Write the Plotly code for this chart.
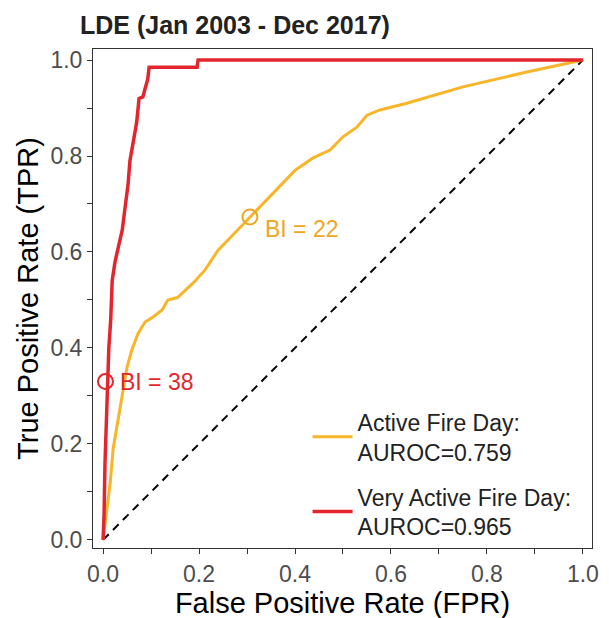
import plotly.graph_objects as go

# ---- data ----
active_fpr = [0.0, 0.008, 0.015, 0.021, 0.031, 0.042, 0.05, 0.06, 0.073, 0.0875, 0.105,
              0.123, 0.135, 0.155, 0.171, 0.19, 0.2125, 0.24, 0.27, 0.306, 0.354, 0.4,
              0.4375, 0.473, 0.5, 0.529, 0.55, 0.577, 0.633, 0.702, 0.75, 0.883, 0.967, 1.0]
active_tpr = [0.0, 0.06, 0.12, 0.19, 0.25, 0.32, 0.36, 0.396, 0.43, 0.454, 0.465,
              0.479, 0.5, 0.505, 0.52, 0.5375, 0.5625, 0.604, 0.635, 0.673, 0.723, 0.77,
              0.796, 0.8125, 0.84, 0.86, 0.885, 0.896, 0.91, 0.931, 0.944, 0.975, 0.994, 1.0]

vactive_fpr = [0.0, 0.002, 0.004, 0.008, 0.012, 0.016, 0.019, 0.025, 0.031, 0.04, 0.046,
               0.052, 0.056, 0.063, 0.07, 0.075, 0.083, 0.0875, 0.093, 0.096, 0.196, 0.198, 1.0]
vactive_tpr = [0.0, 0.05, 0.16, 0.30, 0.40, 0.46, 0.54, 0.58, 0.604, 0.646, 0.694,
               0.74, 0.79, 0.83, 0.87, 0.92, 0.923, 0.94, 0.96, 0.985, 0.985, 1.0, 1.0]

chance_line = [0.0, 1.0]

series_names = ["Active Fire Day:<br>AUROC=0.759", "Very Active Fire Day:<br>AUROC=0.965"]
bi_points_fpr = [0.306, 0.005]
bi_points_tpr = [0.673, 0.33]
bi_labels = ["BI = 22", "BI = 38"]

tick_vals = [0.0, 0.1, 0.2, 0.3, 0.4, 0.5, 0.6, 0.7, 0.8, 0.9, 1.0]
tick_text = ["0.0", "", "0.2", "", "0.4", "", "0.6", "", "0.8", "", "1.0"]

ORANGE = "#F8B52A"
ORANGE_TXT = "#F0A622"
RED = "#E3262E"
FONT = "Liberation Sans, Arial, sans-serif"

fig = go.Figure()

fig.add_trace(go.Scatter(x=chance_line, y=chance_line, mode="lines",
                         line=dict(color="black", width=2, dash="8px,6px"),
                         showlegend=False, hoverinfo="skip"))
fig.add_trace(go.Scatter(x=active_fpr, y=active_tpr, mode="lines", name=series_names[0],
                         line=dict(color=ORANGE, width=3), legendgroup="a"))
fig.add_trace(go.Scatter(x=vactive_fpr, y=vactive_tpr, mode="lines", name=series_names[1],
                         line=dict(color=RED, width=3.5), legendgroup="b"))
fig.add_trace(go.Scatter(x=bi_points_fpr, y=bi_points_tpr, mode="markers",
                         marker=dict(symbol="circle-open", size=15,
                                     color=[ORANGE_TXT, RED], line=dict(width=2)),
                         showlegend=False))

label_shifts = [(13, -12), (13, 0)]
for fx, ty, lab, col, (dx, dy) in zip(bi_points_fpr, bi_points_tpr, bi_labels,
                                      [ORANGE_TXT, RED], label_shifts):
    fig.add_annotation(x=fx, y=ty, text=lab, showarrow=False, xanchor="left",
                       yanchor="middle", xshift=dx, yshift=dy,
                       font=dict(family=FONT, size=23, color=col))

axis_common = dict(
    tickvals=tick_vals, ticktext=tick_text, ticks="outside", ticklen=5, tickwidth=1,
    tickcolor="#333333", showline=True, linecolor="#333333", linewidth=1, mirror=True,
    showgrid=False, zeroline=False,
    tickfont=dict(family=FONT, size=23, color="#4D4D4D"),
)

fig.update_xaxes(range=[-0.021, 1.019], title=dict(text="False Positive Rate (FPR)",
                 font=dict(family=FONT, size=29, color="black"), standoff=1), **axis_common)
fig.update_yaxes(range=[-0.017, 1.023], title=dict(text="True Positive Rate (TPR)",
                 font=dict(family=FONT, size=29, color="black"), standoff=3), **axis_common)

fig.update_layout(
    width=609, height=618,
    margin=dict(l=85, r=25, t=41, b=78),
    plot_bgcolor="white", paper_bgcolor="white",
    title=dict(text="<b>LDE (Jan 2003 - Dec 2017)</b>", x=72/609, xanchor="left",
               xref="container", y=1-17/618, yanchor="middle",
               font=dict(family=FONT, size=25, color="#222222")),
    legend=dict(x=0.43, y=0.296, xanchor="left", yanchor="top",
                font=dict(family=FONT, size=23, color="#222222"),
                bgcolor="rgba(0,0,0,0)", tracegroupgap=12, itemwidth=40),
    showlegend=True,
)

fig.write_html("out.html")
